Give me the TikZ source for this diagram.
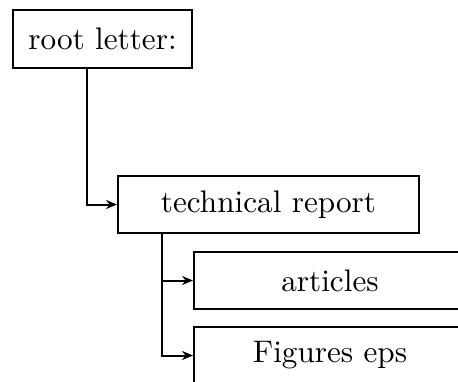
\documentclass[tikz,border=0pt]{standalone}
\usepackage{fontspec}
\setmainfont{lmroman10-regular.otf}
\usetikzlibrary{arrows.meta,calc}
\begin{document}
\begin{tikzpicture}[x=0.5pt,y=-0.5pt,
  box/.style={draw,line width=1pt,inner sep=0pt,minimum height=28.5pt,
    font=\fontsize{15.6}{18}\selectfont},
  link/.style={line width=1pt,-{Stealth[length=5.5pt,width=4.5pt,inset=1.8pt]}}]
\useasboundingbox (0,0) rectangle (458,381);
\clip (0,0) rectangle (458,381);
\node[box,minimum width=89.5pt,minimum height=29pt] (root) at (102.5,39) {root letter:\hspace{8pt}};
\node[box,minimum width=150.5pt] (tech) at (268.5,204.5) {technical report};
\node[box,minimum width=136pt] (art) at (330,280.5) {articles};
\node[box,minimum width=136pt] (fig) at (330,355.5) {Figures eps};
\draw[link] ($(root.south west)+(75,0)$) |- (tech.west);
\draw[link] ($(tech.south west)+(45,0)$) |- (art.west);
\draw[link] ($(tech.south west)+(45,0)$) |- (fig.west);
\end{tikzpicture}
\end{document}
